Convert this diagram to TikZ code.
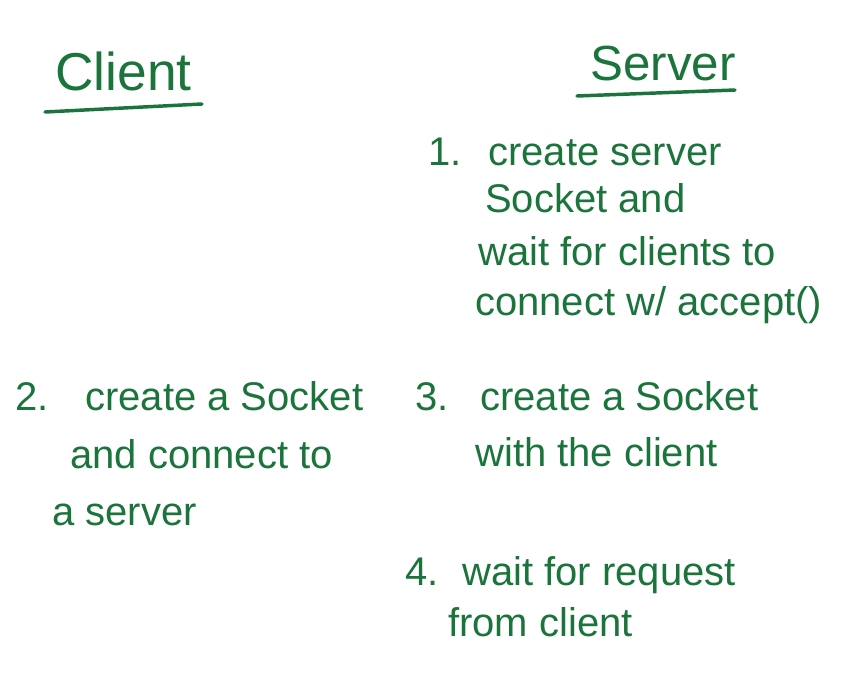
\documentclass[tikz,border=0pt]{standalone}
\usepackage{fontspec}
\setmainfont{Liberation Sans}
\definecolor{ink}{HTML}{1B743B}
\begin{document}
\begin{tikzpicture}[x=0.75pt,y=-0.75pt,
  txt/.style={anchor=base west, inner sep=0pt, text=ink, font=\fontsize{30}{36}\selectfont},
  title/.style={anchor=base west, inner sep=0pt, text=ink, font=\fontsize{40}{48}\selectfont},
  uline/.style={draw=ink, line width=2.6pt, line cap=round}]
\fill[white] (0,0) rectangle (860,675);
\useasboundingbox (0,0) rectangle (860,675);
% titles
\node[title] (client) at (55,90) {Client};
\node[title, font=\fontsize{37}{44}\selectfont] (server) at (590,80) {Server};
\coordinate (cu1) at (45,112); \coordinate (cu2) at (202,104);
\coordinate (su1) at (577,96); \coordinate (su2) at (735,90);
\draw[uline] (cu1) -- (cu2);
\draw[uline] (su1) -- (su2);
% step 1
\node[txt] (n1) at (428,165) {1.};
\node[txt] (s1a) at (488,165) {create server};
\node[txt] (s1b) at (485,212) {Socket and};
\node[txt] (s1c) at (478,265) {wait for clients to};
\node[txt] (s1d) at (475,315) {connect w/ accept()};
% step 2
\node[txt] (n2) at (15,410) {2.};
\node[txt] (s2a) at (85,410) {create a Socket};
\node[txt] (s2b) at (70,468) {and connect to};
\node[txt] (s2c) at (52,525) {a server};
% step 3
\node[txt] (n3) at (415,410) {3.};
\node[txt] (s3a) at (480,410) {create a Socket};
\node[txt] (s3b) at (475,466) {with the client};
% step 4
\node[txt] (n4) at (405,585) {4.};
\node[txt] (s4a) at (462,585) {wait for request};
\node[txt] (s4b) at (448,636) {from client};
\end{tikzpicture}
\end{document}
